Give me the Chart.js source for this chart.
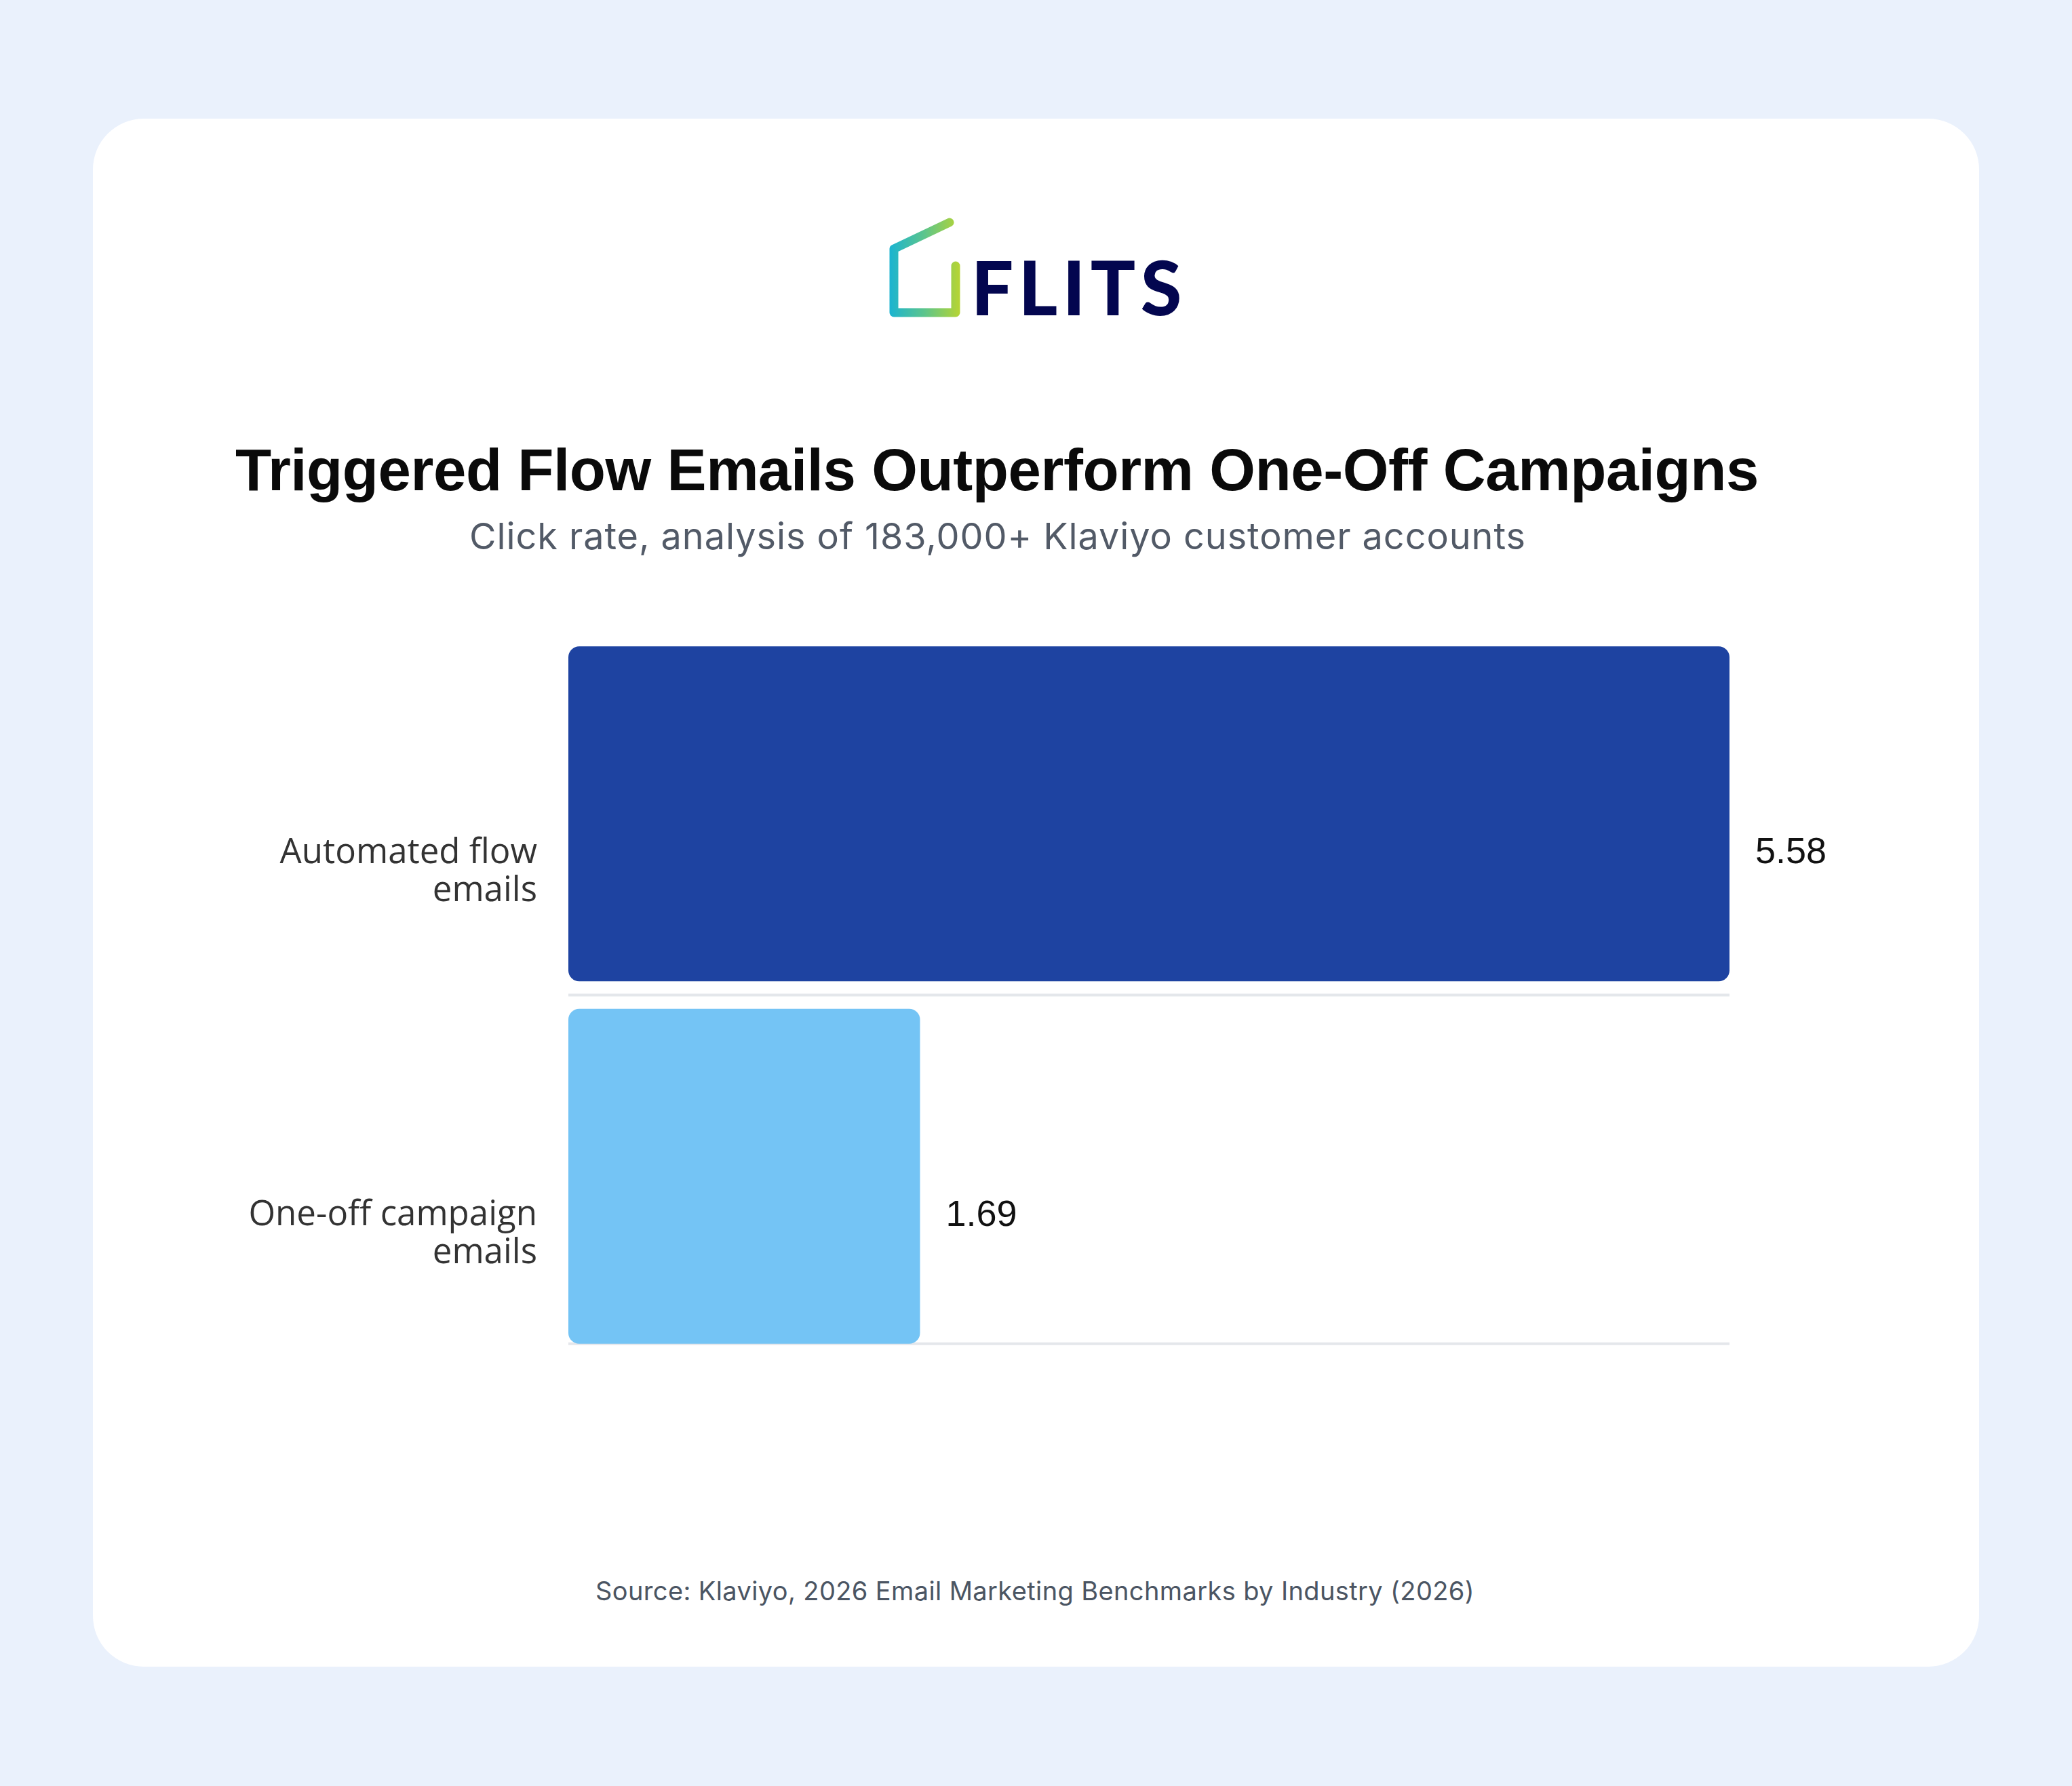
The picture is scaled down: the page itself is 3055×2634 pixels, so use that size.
<!DOCTYPE html>
<html>
<head>
<meta charset="utf-8">
<script src="https://cdn.jsdelivr.net/npm/chart.js@4.4.1/dist/chart.umd.min.js"></script>
<style>
  html, body { margin: 0; padding: 0; }
  body { width: 3055px; height: 2634px; background: #EAF1FC; position: relative; overflow: hidden; }
  #card { position: absolute; left: 137px; top: 175px; width: 2781px; height: 2283px; background: #ffffff; border-radius: 75px; }
  .txt { position: absolute; white-space: nowrap; line-height: 1; }
  .mk { display: inline-block; width: 0; height: 0; vertical-align: baseline; }
  #chart { position: absolute; left: 0; top: 0; }
  #logo { position: absolute; left: 0; top: 0; }
</style>
</head>
<body>
<div id="card"></div>
<svg id="logo" width="3055" height="600" viewBox="0 0 3055 600">
  <defs>
    <linearGradient id="lg" gradientUnits="userSpaceOnUse" x1="1312" y1="0" x2="1414" y2="0">
      <stop offset="0" stop-color="#1BB4D0"/>
      <stop offset="0.5" stop-color="#5CC58C"/>
      <stop offset="1" stop-color="#B4D435"/>
    </linearGradient>
  </defs>
  <path d="M1400 328 L1318 367 L1318 461 L1409 461 L1409 392" fill="none" stroke="url(#lg)" stroke-width="13" stroke-linecap="round" stroke-linejoin="round"/>
</svg>
<div id="brand" class="txt" style="font-family:Lato;font-weight:900;font-size:110px;color:#03064F"><span class="t">FLITS</span><span class="mk"></span></div>
<div id="title" class="txt" style="font-family:'Liberation Sans';font-weight:700;font-size:87px;color:#0A0A0A"><span class="t">Triggered Flow Emails Outperform One-Off Campaigns</span><span class="mk"></span></div>
<div id="subtitle" class="txt" style="font-family:Inter;font-size:54px;color:#525A67"><span class="t">Click rate, analysis of 183,000+ Klaviyo customer accounts</span><span class="mk"></span></div>
<div id="source" class="txt" style="font-family:Inter;font-size:38px;color:#4B5563"><span class="t">Source: Klaviyo, 2026 Email Marketing Benchmarks by Industry (2026)</span><span class="mk"></span></div>
<canvas id="chart" width="3055" height="2634"></canvas>
<script>
// ---- data ----
const categories = [["Automated flow", "emails"], ["One-off campaign", "emails"]];
const clickRates = [5.58, 1.69];
const barColors = ["#1E43A1", "#74C4F5"];
const valueLabels = ["5.58", "1.69"];

// ---- text placement helper ----
function place(id, opts) {
  const el = document.getElementById(id);
  const t = el.querySelector('.t');
  const mk = el.querySelector('.mk');
  const n = t.textContent.length;
  el.style.letterSpacing = '0px';
  const w0 = t.getBoundingClientRect().width;
  const ls = (opts.width - w0) / n;
  el.style.letterSpacing = ls + 'px';
  const left = (opts.left !== undefined) ? opts.left : (opts.cx - opts.width / 2);
  el.style.left = left + 'px';
  el.style.top = '0px';
  const base = mk.getBoundingClientRect().top - el.getBoundingClientRect().top;
  el.style.top = (opts.baseline - base) + 'px';
}
function layoutText() {
  place('brand', { left: 1432, width: 318, baseline: 465 });
  place('title', { cx: 1470, width: 2246, baseline: 723 });
  place('subtitle', { cx: 1471, width: 1558, baseline: 810 });
  place('source', { cx: 1526, width: 1296, baseline: 2360 });
}

// ---- chart ----
const guideLines = {
  id: 'guideLines',
  beforeDatasetsDraw(chart) {
    const ctx = chart.ctx, ys = chart.scales.y, area = chart.chartArea;
    const meta = chart.getDatasetMeta(0);
    const mid = (ys.getPixelForValue(0) + ys.getPixelForValue(1)) / 2;
    const last = meta.data[meta.data.length - 1];
    const bottom = last.y + last.height / 2;
    ctx.save();
    ctx.strokeStyle = '#E4E7EB';
    ctx.lineWidth = 4;
    [mid, bottom].forEach(y => {
      ctx.beginPath();
      ctx.moveTo(area.left, y);
      ctx.lineTo(area.right, y);
      ctx.stroke();
    });
    ctx.restore();
  }
};
const valueText = {
  id: 'valueText',
  afterDatasetsDraw(chart) {
    const ctx = chart.ctx;
    const meta = chart.getDatasetMeta(0);
    ctx.save();
    ctx.font = '54px "Liberation Sans", Arial, sans-serif';
    ctx.fillStyle = '#111111';
    ctx.textAlign = 'left';
    ctx.textBaseline = 'middle';
    meta.data.forEach((bar, i) => {
      ctx.fillText(valueLabels[i], bar.x + 38, bar.y + 58);
    });
    ctx.restore();
  }
};

function buildChart() {
  new Chart(document.getElementById('chart'), {
    type: 'bar',
    data: {
      labels: categories,
      datasets: [{
        data: clickRates,
        backgroundColor: barColors,
        borderRadius: 16,
        borderSkipped: false,
        barPercentage: 1,
        categoryPercentage: 0.924
      }]
    },
    options: {
      indexAxis: 'y',
      responsive: false,
      animation: false,
      devicePixelRatio: 1,
      layout: { padding: { left: 0, right: 505, top: 933, bottom: 632 } },
      plugins: { legend: { display: false }, tooltip: { enabled: false }, title: { display: false } },
      scales: {
        x: { display: false, min: 0, max: Math.max(...clickRates) },
        y: {
          afterFit(scale) { scale.width = 838; },
          border: { display: false },
          grid: { display: false, drawTicks: false },
          ticks: {
            color: '#333333',
            padding: 46,
            labelOffset: 86,
            font: { family: "'Open Sans'", size: 51, lineHeight: 1.1 }
          }
        }
      }
    },
    plugins: [guideLines, valueText]
  });
}

function go() { layoutText(); buildChart(); }
if (document.fonts && document.fonts.ready) {
  Promise.all([
    document.fonts.load("900 110px Lato"),
    document.fonts.load("700 87px 'Liberation Sans'"),
    document.fonts.load("54px Inter"),
    document.fonts.load("51px 'Open Sans'")
  ]).catch(() => {}).then(() => document.fonts.ready).then(go);
} else { go(); }
</script>
</body>
</html>
